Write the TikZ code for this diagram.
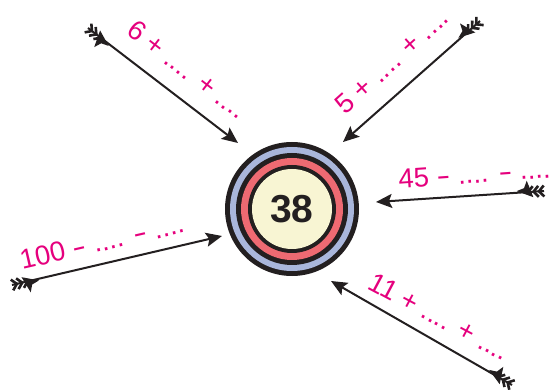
\documentclass[tikz,border=0pt]{standalone}
\usepackage{fontspec}
\setmainfont{Liberation Sans}
\usetikzlibrary{arrows.meta,decorations.markings}
\definecolor{ink}{HTML}{231F20}
\definecolor{ringblue}{HTML}{A9B6DB}
\definecolor{ringred}{HTML}{EE6A72}
\definecolor{core}{HTML}{F8F5D3}
\definecolor{pinktxt}{HTML}{E5007D}
\newcommand{\mydash}{\scalebox{1.5}[1]{-}}
\begin{document}
\begin{tikzpicture}[x=1pt,y=-1pt,
  arrowline/.style={draw=ink, line width=2pt,
    -{Stealth[length=16pt,width=14pt,inset=3pt]},
    postaction={decorate},
    decoration={markings, mark=at position 0pt with {
      \draw[ink,line width=2.6pt] (0,5.5)--(5,0)--(0,-5.5) (5.5,5.5)--(10.5,0)--(5.5,-5.5) (11,5.5)--(16,0)--(11,-5.5);}}},
  lbl/.style={text=pinktxt, font=\fontsize{27.5}{27.5}\selectfont, anchor=base, inner sep=0pt}
]
\useasboundingbox (0,0) rectangle (549,390);
% target
\node[circle, fill=ink, minimum size=134pt, inner sep=0pt] (c) at (292,209) {};
\fill[ringblue] (c.center) circle[radius=62];
\fill[ink] (c.center) circle[radius=56];
\fill[ringred] (c.center) circle[radius=51];
\fill[ink] (c.center) circle[radius=44];
\fill[core] (c.center) circle[radius=40];
\node[font=\bfseries\fontsize{39}{39}\selectfont, text=ink, inner sep=0pt] (n) at (c.center) {38};
% arrow ends
\coordinate (t1) at (88,28);   \coordinate (h1) at (238,143);
\coordinate (t2) at (480,21);  \coordinate (h2) at (343,142);
\coordinate (t3) at (544,191); \coordinate (h3) at (376,202);
\coordinate (t4) at (12,285);  \coordinate (h4) at (222,236);
\coordinate (t5) at (512,385); \coordinate (h5) at (331,281);
\draw[arrowline] (t1) -- (h1);
\draw[arrowline] (t2) -- (h2);
\draw[arrowline] (t3) -- (h3);
\draw[arrowline] (t4) -- (h4);
\draw[arrowline] (t5) -- (h5);
% labels
\node[lbl, rotate=-37.5] (l1) at (182,77) {6 + .... + ....};
\node[lbl, rotate=42] (l2) at (398,68) {5 + .... + ....};
\node[lbl, rotate=4] (l3) at (475,183) {45 \mydash{} .... \mydash{} ....};
\node[lbl, rotate=13] (l4) at (104,251) {100 \mydash{} .... \mydash{} ....};
\node[lbl, rotate=-28] (l5) at (435,325) {11 + .... + ....};
\end{tikzpicture}
\end{document}
